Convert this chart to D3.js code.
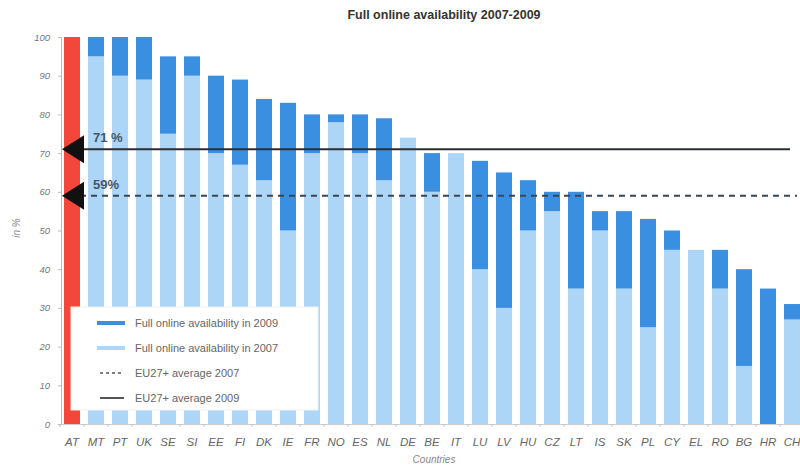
<!DOCTYPE html>
<html>
<head>
<meta charset="utf-8">
<script src="https://cdn.jsdelivr.net/npm/d3@7"></script>
<style>
  body { margin: 0; background: #fff; }
  svg { font-family: "Liberation Sans", Arial, sans-serif; }
</style>
</head>
<body>
<svg id="chart" width="800" height="466"></svg>
<script>
// countries, sorted by 2009 value
const countries = ["AT","MT","PT","UK","SE","SI","EE","FI","DK","IE","FR","NO","ES","NL","DE","BE","IT","LU","LV","HU","CZ","LT","IS","SK","PL","CY","EL","RO","BG","HR","CH"];
const val2007 = [100,95,90,89,75,90,70,67,63,50,70,78,70,63,74,60,70,40,30,50,55,35,50,35,25,45,45,35,15,0,27];
const val2009 = [100,100,100,100,95,95,90,89,84,83,80,80,80,79,74,70,70,68,65,63,60,60,55,55,53,50,45,45,40,35,31];
const highlight = "AT";
const avg2007 = 59;
const avg2009 = 71;
const yTicks = [0,10,20,30,40,50,60,70,80,90,100];
const legendItems = [
    {label: "Full online availability in 2009", type: "dark"},
    {label: "Full online availability in 2007", type: "light"},
    {label: "EU27+ average 2007", type: "dotted"},
    {label: "EU27+ average 2009", type: "solid"}
];

const colDark = "#3b8fe0";
const colLight = "#acd5f6";
const colRed = "#f2473a";

const svg = d3.select("#chart");

const x = d3.scaleBand()
    .domain(countries)
    .range([60, 804])
    .paddingInner(1/3)
    .paddingOuter(1/6);

const y = d3.scaleLinear().domain([0, 100]).range([424, 37]);

const bars = countries.map((c, i) => ({name: c, v07: val2007[i], v09: val2009[i]}));

// title
svg.append("text")
    .attr("x", 444).attr("y", 19)
    .attr("text-anchor", "middle")
    .attr("font-size", 12.5).attr("font-weight", "bold")
    .attr("fill", "#333")
    .text("Full online availability 2007-2009");

// bars: light part 0..2007, dark part 2007..2009
const g = svg.append("g");
g.selectAll(".bar07")
    .data(bars)
    .enter().append("rect")
        .attr("class", "bar07")
        .attr("x", d => x(d.name))
        .attr("width", x.bandwidth())
        .attr("y", d => y(d.v07))
        .attr("height", d => y(0) - y(d.v07))
        .attr("fill", d => d.name === highlight ? colRed : colLight);

g.selectAll(".bar09")
    .data(bars)
    .enter().append("rect")
        .attr("class", "bar09")
        .attr("x", d => x(d.name))
        .attr("width", x.bandwidth())
        .attr("y", d => y(d.v09))
        .attr("height", d => y(d.v07) - y(d.v09))
        .attr("fill", d => d.name === highlight ? colRed : colDark);

// y axis
const yAxis = d3.axisLeft(y).tickValues(yTicks).tickSize(3).tickPadding(8);
const gY = svg.append("g")
    .attr("transform", "translate(61,0)")
    .call(yAxis);
gY.select(".domain").attr("stroke", "#bbb");
gY.selectAll(".tick line").attr("stroke", "#bbb");
gY.selectAll("text")
    .attr("font-size", 9.5).attr("font-style", "italic")
    .attr("fill", "#777").attr("font-family", "Liberation Sans, Arial, sans-serif");

// x axis
const xAxis = d3.axisBottom(x).tickSize(0).tickPadding(14);
const gX = svg.append("g")
    .attr("transform", "translate(0,424)")
    .call(xAxis);
gX.select(".domain").attr("stroke", "#ccc");
gX.selectAll("text")
    .attr("font-size", 11.5).attr("font-style", "italic")
    .attr("fill", "#666").attr("font-family", "Liberation Sans, Arial, sans-serif");
gX.selectAll(".sep")
    .data(countries)
    .enter().append("line")
        .attr("class", "sep")
        .attr("x1", d => x(d) - x.step() * x.paddingInner() / 2)
        .attr("x2", d => x(d) - x.step() * x.paddingInner() / 2)
        .attr("y1", 0).attr("y2", 3)
        .attr("stroke", "#bbb");

// axis titles
svg.append("text")
    .attr("transform", "translate(20,228) rotate(-90)")
    .attr("text-anchor", "middle")
    .attr("font-size", 10).attr("font-style", "italic")
    .attr("fill", "#888")
    .text("in %");

svg.append("text")
    .attr("x", 434).attr("y", 463)
    .attr("text-anchor", "middle")
    .attr("font-size", 10).attr("font-style", "italic")
    .attr("fill", "#888")
    .text("Countries");

// legend box
const legend = svg.append("g");
legend.append("rect")
    .attr("x", 71).attr("y", 307)
    .attr("width", 247).attr("height", 103)
    .attr("fill", "#fff")
    .attr("stroke", "#f2f2f2");

legendItems.forEach((item, i) => {
    const ly = 323 + i * 25;
    const row = legend.append("g");
    if (item.type === "dark" || item.type === "light") {
        row.append("line")
            .attr("x1", 97).attr("x2", 125).attr("y1", ly).attr("y2", ly)
            .attr("stroke", item.type === "dark" ? colDark : colLight)
            .attr("stroke-width", 4);
    } else {
        row.append("line")
            .attr("x1", 100).attr("x2", 124).attr("y1", ly).attr("y2", ly)
            .attr("stroke", "#555")
            .attr("stroke-width", item.type === "dotted" ? 1.5 : 2)
            .attr("stroke-dasharray", item.type === "dotted" ? "3,3" : null);
    }
    row.append("text")
        .attr("x", 135).attr("y", ly + 4)
        .attr("font-size", 11)
        .attr("fill", "#666")
        .text(item.label);
});

// average lines with arrow markers
const avgs = [
    {v: avg2009, label: "71 %", dash: null, x2: 790},
    {v: avg2007, label: "59%", dash: "6,5", x2: 797}
];
avgs.forEach(a => {
    const ay = y(a.v);
    svg.append("line")
        .attr("x1", 80).attr("x2", a.x2)
        .attr("y1", ay).attr("y2", ay)
        .attr("stroke", a.dash ? "#3a4550" : "#2b2f33")
        .attr("stroke-width", 2)
        .attr("stroke-dasharray", a.dash);
    svg.append("path")
        .attr("d", `M62,${ay} L84,${ay - 14} L84,${ay + 14} Z`)
        .attr("fill", "#111");
    svg.append("text")
        .attr("x", 93).attr("y", ay - 7)
        .attr("font-size", 13).attr("font-weight", "bold")
        .attr("fill", "#44576a")
        .text(a.label);
});
</script>
</body>
</html>
